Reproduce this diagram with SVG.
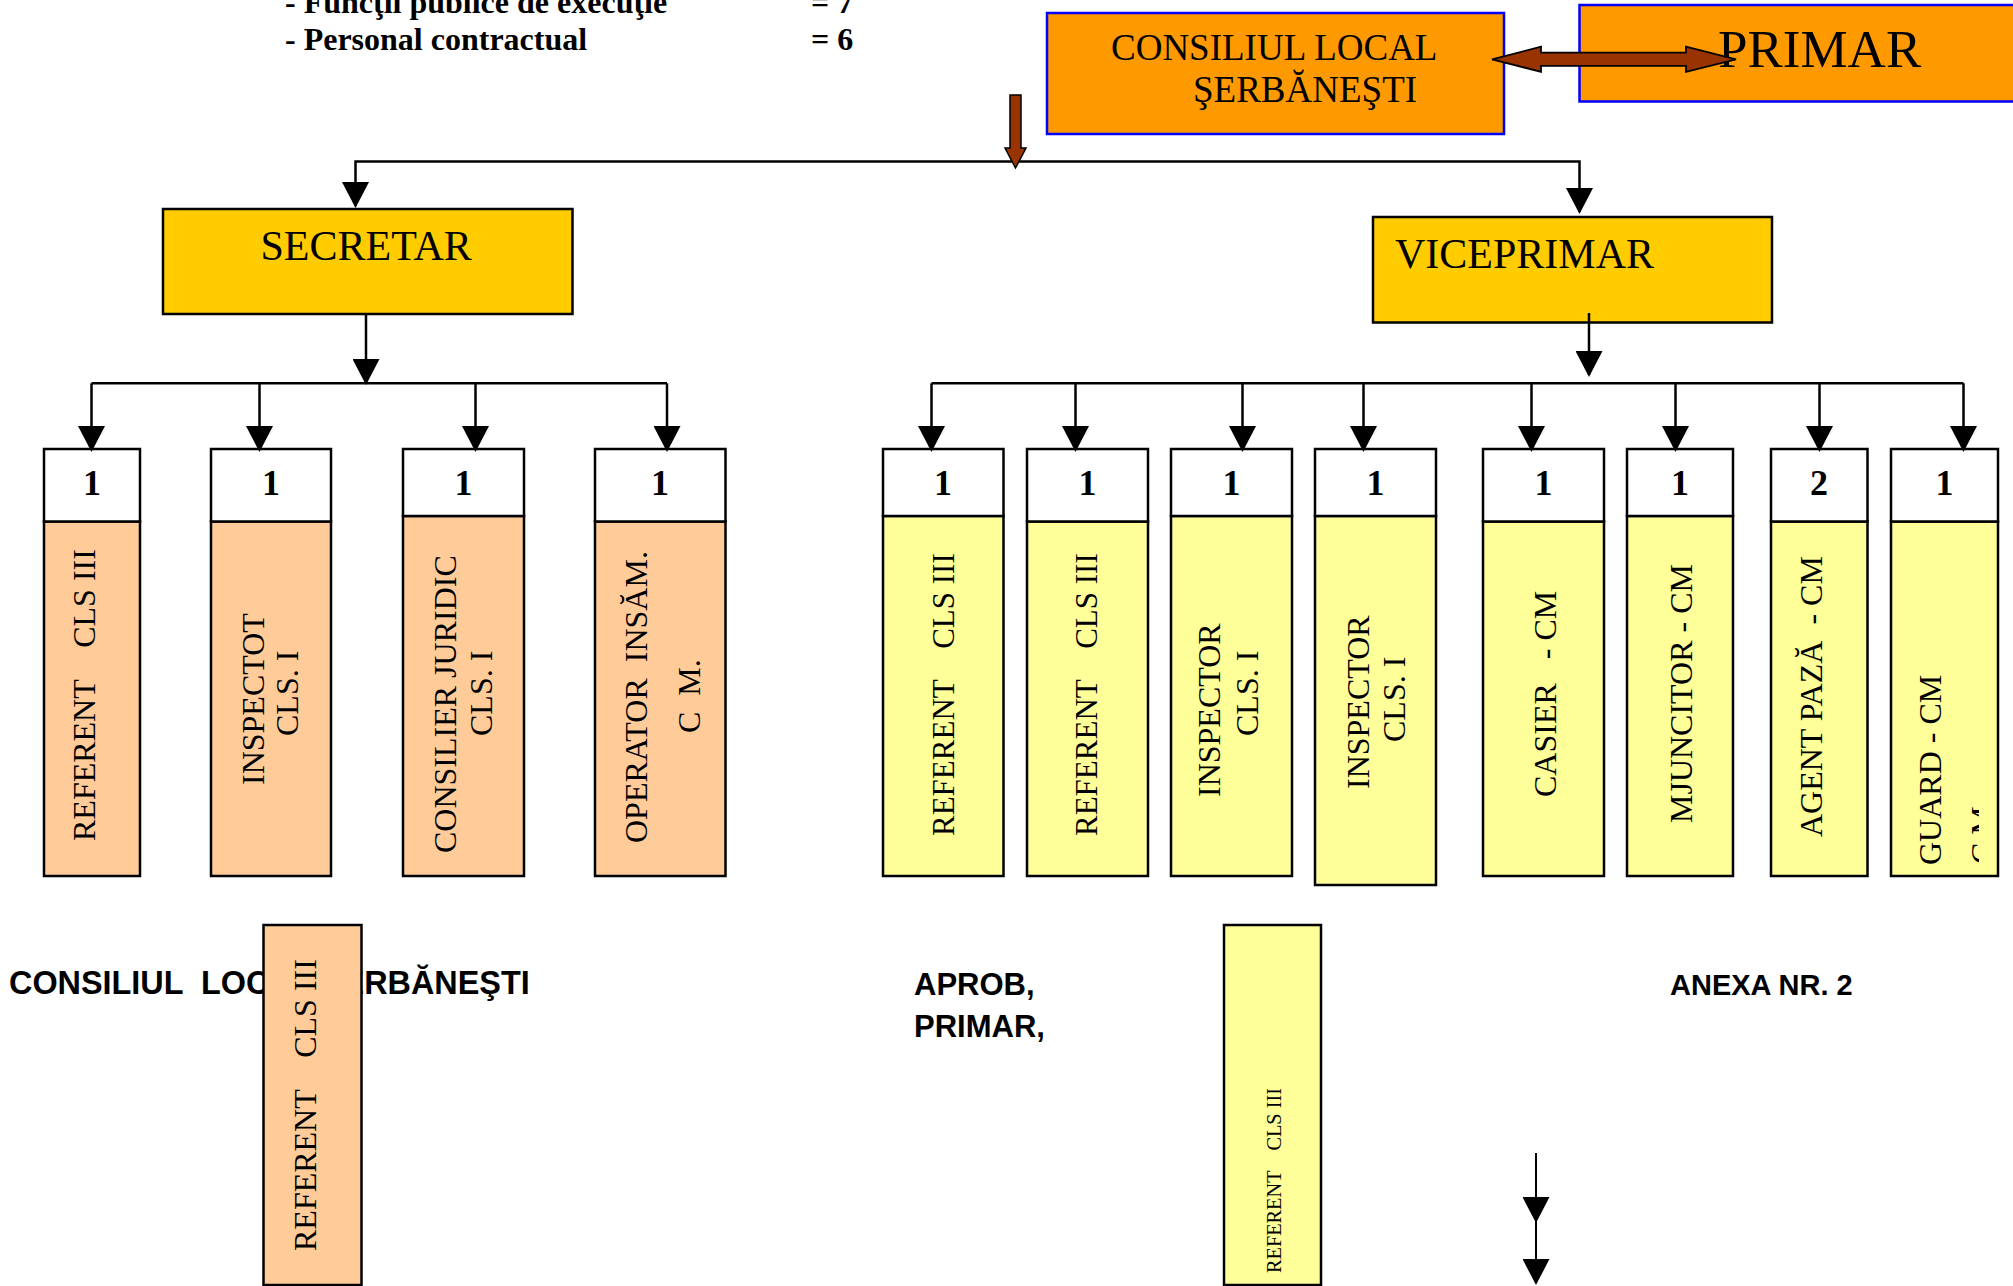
<svg xmlns="http://www.w3.org/2000/svg" width="2013" height="1286" viewBox="0 0 2013 1286" xml:space="preserve">
<defs>
<style>
.t{font-family:"Liberation Serif","Times New Roman",serif;fill:#000;white-space:pre}
.b{font-weight:bold}
.s{font-family:"Liberation Sans",Arial,sans-serif;font-weight:bold;fill:#000;white-space:pre}
.box{stroke:#000;stroke-width:2.5}
.num{fill:#fff}
.peach{fill:#FFCC99}
.yel{fill:#FFFF99}
.nt{font-size:36px;text-anchor:middle}
.lb{font-size:32px}
.conn{stroke:#000;stroke-width:2.5;fill:none;marker-end:url(#ah)}
.hl{stroke:#000;stroke-width:2.5;fill:none}
</style>
<marker id="ah" markerUnits="userSpaceOnUse" markerWidth="27" markerHeight="27" viewBox="0 0 26 27" refX="24" refY="13.5" orient="auto"><path d="M0,0 L26,13.5 L0,27 Z" fill="#000"/></marker>
<clipPath id="clipH"><rect x="1891" y="522" width="88" height="354"/></clipPath>
</defs>
<rect x="0" y="0" width="2013" height="1286" fill="#fff"/>

<g id="header-text">
<text class="t b" x="285" y="13" font-size="32">- Funcţii publice de execuţie</text>
<text class="t b" x="811" y="13" font-size="32">= 7</text>
<text class="t b" x="285" y="50" font-size="32">- Personal contractual</text>
<text class="t b" x="811" y="50" font-size="32">= 6</text>
</g>

<g id="consiliul-local">
<rect x="1047" y="13" width="457" height="121" fill="#FF9900" stroke="#0000FF" stroke-width="2.5"/>
<text class="t" x="1111" y="60" font-size="37">CONSILIUL LOCAL</text>
<text class="t" x="1193" y="102" font-size="37">ŞERBĂNEŞTI</text>
</g>

<g id="primar">
<rect x="1579.5" y="5" width="440" height="96.5" fill="#FF9900" stroke="#0000FF" stroke-width="2.5"/>
<text class="t" x="1718" y="67" font-size="53">PRIMAR</text>
</g>

<g id="secretar">
<rect class="box" x="163" y="209" width="409.5" height="105" fill="#FFCC00"/>
<text class="t" x="260.5" y="260" font-size="42">SECRETAR</text>
</g>

<g id="viceprimar">
<rect class="box" x="1373" y="217" width="399" height="105.5" fill="#FFCC00"/>
<text class="t" x="1395" y="268" font-size="42">VICEPRIMAR</text>
</g>

<g id="s1">
<rect class="box peach" x="44" y="521.5" width="96" height="354.5"/>
<rect class="box num" x="44" y="449" width="96" height="72.5"/>
<text class="t b nt" x="92" y="495">1</text>
<text class="t lb" transform="translate(94.5,841) rotate(-90)">REFERENT    CLS III</text>
</g>
<g id="s2">
<rect class="box peach" x="211" y="521.5" width="120" height="354.5"/>
<rect class="box num" x="211" y="449" width="120" height="72.5"/>
<text class="t b nt" x="271" y="495">1</text>
<text class="t lb" transform="translate(264,785) rotate(-90)">INSPECTOT</text>
<text class="t lb" transform="translate(298,736) rotate(-90)">CLS. I</text>
</g>
<g id="s3">
<rect class="box peach" x="403" y="516" width="121" height="360"/>
<rect class="box num" x="403" y="449" width="121" height="67"/>
<text class="t b nt" x="463.5" y="495">1</text>
<text class="t lb" transform="translate(456,853) rotate(-90)">CONSILIER JURIDIC</text>
<text class="t lb" transform="translate(492,736) rotate(-90)">CLS. I</text>
</g>
<g id="s4">
<rect class="box peach" x="595" y="521.5" width="130.5" height="354.5"/>
<rect class="box num" x="595" y="449" width="130.5" height="72.5"/>
<text class="t b nt" x="660" y="495">1</text>
<text class="t lb" transform="translate(647,843) rotate(-90)">OPERATOR  INSĂM.</text>
<text class="t lb" transform="translate(700,733) rotate(-90)">C  M.</text>
</g>

<g id="v1">
<rect class="box yel" x="883" y="516" width="120.5" height="360"/>
<rect class="box num" x="883" y="449" width="120.5" height="67"/>
<text class="t b nt" x="943" y="495">1</text>
<text class="t" font-size="31" transform="translate(954,836) rotate(-90)">REFERENT    CLS III</text>
</g>
<g id="v2">
<rect class="box yel" x="1027" y="521.5" width="121" height="354.5"/>
<rect class="box num" x="1027" y="449" width="121" height="72.5"/>
<text class="t b nt" x="1087.5" y="495">1</text>
<text class="t" font-size="31" transform="translate(1097,836) rotate(-90)">REFERENT    CLS III</text>
</g>
<g id="v3">
<rect class="box yel" x="1171" y="516" width="121" height="360"/>
<rect class="box num" x="1171" y="449" width="121" height="67"/>
<text class="t b nt" x="1231.5" y="495">1</text>
<text class="t lb" transform="translate(1220,797) rotate(-90)">INSPECTOR</text>
<text class="t lb" transform="translate(1258,736) rotate(-90)">CLS. I</text>
</g>
<g id="v4">
<rect class="box yel" x="1315" y="516" width="121" height="369"/>
<rect class="box num" x="1315" y="449" width="121" height="67"/>
<text class="t b nt" x="1375.5" y="495">1</text>
<text class="t lb" transform="translate(1369,789) rotate(-90)">INSPECTOR</text>
<text class="t lb" transform="translate(1405,742) rotate(-90)">CLS. I</text>
</g>
<g id="v5">
<rect class="box yel" x="1483" y="521.5" width="121" height="354.5"/>
<rect class="box num" x="1483" y="449" width="121" height="72.5"/>
<text class="t b nt" x="1543.5" y="495">1</text>
<text class="t lb" transform="translate(1556,797) rotate(-90)">CASIER   - CM</text>
</g>
<g id="v6">
<rect class="box yel" x="1627" y="516" width="106" height="360"/>
<rect class="box num" x="1627" y="449" width="106" height="67"/>
<text class="t b nt" x="1680" y="495">1</text>
<text class="t lb" transform="translate(1692,823) rotate(-90)">MJUNCITOR - CM</text>
</g>
<g id="v7">
<rect class="box yel" x="1771" y="521.5" width="96.5" height="354.5"/>
<rect class="box num" x="1771" y="449" width="96.5" height="72.5"/>
<text class="t b nt" x="1819" y="495">2</text>
<text class="t lb" transform="translate(1822,837) rotate(-90)">AGENT PAZĂ  - CM</text>
</g>
<g id="v8">
<rect class="box yel" x="1891" y="521.5" width="107" height="354.5"/>
<rect class="box num" x="1891" y="449" width="107" height="72.5"/>
<text class="t b nt" x="1944.5" y="495">1</text>
<text class="t lb" transform="translate(1941,865) rotate(-90)">GUARD - CM</text>
<g clip-path="url(#clipH)"><text class="t lb" transform="translate(1993,864) rotate(-90)">C M</text></g>
</g>

<g id="footer-text">
<text class="s" x="9" y="994" font-size="32.4">CONSILIUL  LOCAL ŞERBĂNEŞTI</text>
<text class="s" x="914" y="995" font-size="31">APROB,</text>
<text class="s" x="914" y="1037" font-size="31">PRIMAR,</text>
<text class="s" x="1670" y="995" font-size="29">ANEXA NR. 2</text>
</g>

<g id="b1">
<rect class="box peach" x="263.5" y="925" width="98" height="360"/>
<text class="t lb" transform="translate(316,1251) rotate(-90)">REFERENT    CLS III</text>
</g>
<g id="b2">
<rect class="box yel" x="1224" y="925" width="97" height="360"/>
<text class="t" font-size="20.3" transform="translate(1281,1273) rotate(-90)">REFERENT    CLS III</text>
</g>

<g id="connectors">
<path class="conn" d="M1015,161.5 H355.5 V206"/>
<path class="conn" d="M1015,161.5 H1579.5 V212"/>
<path class="conn" d="M366,314 V383"/>
<path class="hl" d="M91.5,383.3 H667"/>
<path class="conn" d="M91.5,383.3 V450"/>
<path class="conn" d="M259.5,383.3 V450"/>
<path class="conn" d="M475.5,383.3 V450"/>
<path class="conn" d="M667,383.3 V450"/>
<path class="conn" d="M1589,313 V375"/>
<path class="hl" d="M931.5,383.3 H1963.5"/>
<path class="conn" d="M931.5,383.3 V450"/>
<path class="conn" d="M1075.5,383.3 V450"/>
<path class="conn" d="M1242.5,383.3 V450"/>
<path class="conn" d="M1363.5,383.3 V450"/>
<path class="conn" d="M1531.5,383.3 V450"/>
<path class="conn" d="M1675.5,383.3 V450"/>
<path class="conn" d="M1819.5,383.3 V450"/>
<path class="conn" d="M1963.5,383.3 V450"/>
<path class="conn" style="stroke-width:2" d="M1536,1153 V1221"/>
<path class="conn" style="stroke-width:2" d="M1536,1221 V1283"/>
<polygon points="1010,95 1021,95 1021,148 1026,148 1015.5,168 1005,148 1010,148" fill="#993300" stroke="#000" stroke-width="1.5"/>
<polygon points="1492,59.3 1541,46.7 1541,52.7 1686,52.7 1686,46.7 1736,59.3 1686,71.8 1686,65.9 1541,65.9 1541,71.8" fill="#993300" stroke="#000" stroke-width="1.8"/>
</g>
</svg>
